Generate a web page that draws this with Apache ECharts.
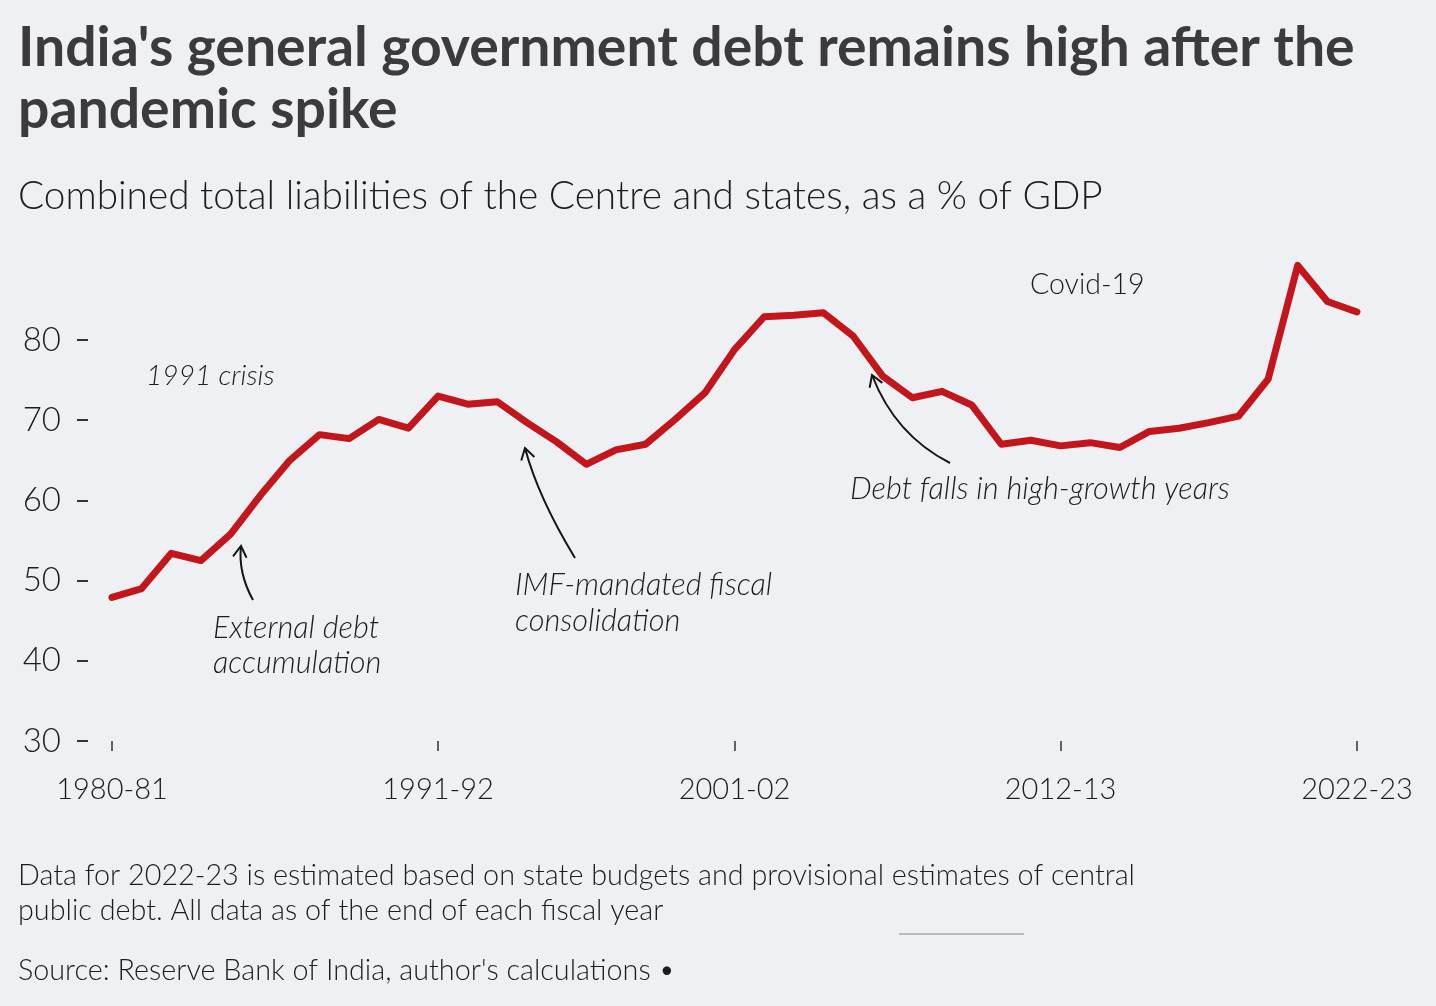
<!DOCTYPE html>
<html>
<head>
<meta charset="utf-8">
<script src="https://cdn.jsdelivr.net/npm/echarts@6/dist/echarts.min.js"></script>
<style>
  html, body { margin: 0; padding: 0; background: #eef0f3; }
  #chart { width: 1436px; height: 1006px; }
</style>
</head>
<body>
<div id="chart"></div>
<script>
// ---------------- data ----------------
const fiscalYears = [
  '1980-81','1981-82','1982-83','1983-84','1984-85','1985-86','1986-87','1987-88','1988-89','1989-90',
  '1990-91','1991-92','1992-93','1993-94','1994-95','1995-96','1996-97','1997-98','1998-99','1999-00',
  '2000-01','2001-02','2002-03','2003-04','2004-05','2005-06','2006-07','2007-08','2008-09','2009-10',
  '2010-11','2011-12','2012-13','2013-14','2014-15','2015-16','2016-17','2017-18','2018-19','2019-20',
  '2020-21','2021-22','2022-23'
];
const debtToGdp = [
  47.9, 49.0, 53.4, 52.5, 55.8, 60.6, 65.0, 68.2, 67.7, 70.1,
  69.0, 73.0, 72.0, 72.3, 69.7, 67.3, 64.5, 66.3, 67.0, 70.1,
  73.4, 78.8, 82.9, 83.1, 83.4, 80.5, 75.5, 72.8, 73.6, 71.9,
  67.0, 67.5, 66.8, 67.2, 66.6, 68.6, 69.0, 69.7, 70.5, 75.1,
  89.3, 84.8, 83.5
];
const xTickLabels = ['1980-81', '1991-92', '2001-02', '2012-13', '2022-23'];
const yMin = 30, yMax = 80, yStep = 10;

const titleLines = ["India's general government debt remains high after the", "pandemic spike"];
const subtitleText = 'Combined total liabilities of the Centre and states, as a % of GDP';
const footnoteLines = [
  'Data for 2022-23 is estimated based on state budgets and provisional estimates of central',
  'public debt. All data as of the end of each fiscal year'
];
const sourceText = "Source: Reserve Bank of India, author's calculations \u2022";

// ---------------- helpers ----------------
const FAMILY = 'Lato, "Open Sans", "Noto Sans", sans-serif';
const mctx = document.createElement('canvas').getContext('2d');
function fitSize(text, weight, style, target) {
  mctx.font = style + ' ' + weight + ' 100px ' + FAMILY;
  return 100 * target / mctx.measureText(text).width;
}
function txt(text, x, y, size, opts) {
  opts = opts || {};
  const weight = opts.weight || 300, style = opts.style || 'normal';
  return {
    type: 'text', x: x, y: y, silent: true,
    style: {
      text: text, fill: opts.fill || '#1d1d1f',
      font: style + ' ' + weight + ' ' + size.toFixed(2) + 'px ' + FAMILY,
      align: 'left', verticalAlign: 'middle',
      textAlign: 'left', textVerticalAlign: 'middle'
    }
  };
}
function arrow(tail, ctrl, tip) {
  const dx = tip[0] - ctrl[0], dy = tip[1] - ctrl[1];
  const L = Math.hypot(dx, dy), ux = dx / L, uy = dy / L;
  const len = 13, ang = 0.55;
  const w1 = [tip[0] - len * (ux * Math.cos(ang) - uy * Math.sin(ang)), tip[1] - len * (uy * Math.cos(ang) + ux * Math.sin(ang))];
  const w2 = [tip[0] - len * (ux * Math.cos(-ang) - uy * Math.sin(-ang)), tip[1] - len * (uy * Math.cos(-ang) + ux * Math.sin(-ang))];
  return [
    { type: 'bezierCurve', silent: true,
      shape: { x1: tail[0], y1: tail[1], x2: tip[0], y2: tip[1], cpx1: ctrl[0], cpy1: ctrl[1] },
      style: { stroke: '#151515', lineWidth: 2, fill: null } },
    { type: 'polyline', silent: true,
      shape: { points: [w1, tip, w2] },
      style: { stroke: '#151515', lineWidth: 2, fill: null, lineJoin: 'miter' } }
  ];
}

// ---------------- text sizes ----------------
const titleSize = fitSize(titleLines[0], 700, 'normal', 1337);
const subSize = fitSize(subtitleText, 300, 'normal', 1085);
const footSize = fitSize(footnoteLines[0], 300, 'normal', 1117);
const annSize = fitSize('Debt falls in high-growth years', 300, 'italic', 380);
const crisisSize = (annSize + fitSize('1991 crisis', 300, 'italic', 117)) / 2;
const covidSize = (annSize + fitSize('Covid-19', 300, 'normal', 106)) / 2;

const graphics = [
  txt(titleLines[0], 18, 48, titleSize, { weight: 700, fill: '#3b3b3d' }),
  txt(titleLines[1], 18, 110, titleSize, { weight: 700, fill: '#3b3b3d' }),
  txt(subtitleText, 18, 196, subSize),
  txt('1991 crisis', 146, 376, crisisSize, { style: 'italic' }),
  txt('External debt', 213, 628, annSize, { style: 'italic' }),
  txt('accumulation', 213, 663, annSize, { style: 'italic' }),
  txt('IMF-mandated fiscal', 515, 585, annSize, { style: 'italic' }),
  txt('consolidation', 515, 621, annSize, { style: 'italic' }),
  txt('Debt falls in high-growth years', 850, 489, annSize, { style: 'italic' }),
  txt('Covid-19', 1030, 285, covidSize),
  txt(footnoteLines[0], 18, 876, footSize),
  txt(footnoteLines[1], 18, 911, footSize),
  txt(sourceText, 18, 971, footSize),
  { type: 'line', silent: true, shape: { x1: 899, y1: 934, x2: 1024, y2: 934 },
    style: { stroke: '#b9bbbf', lineWidth: 2 } }
].concat(
  arrow([253, 600], [238, 573], [241, 546]),
  arrow([575, 558], [538, 497], [525, 448]),
  arrow([950, 463], [895, 435], [872, 375])
);

const labelIdx = xTickLabels.map(l => fiscalYears.indexOf(l));

const chart = echarts.init(document.getElementById('chart'), null, { renderer: 'canvas' });
chart.setOption({
  backgroundColor: '#eef0f3',
  animation: false,
  grid: { left: 112, right: 79, top: 340, bottom: 265, containLabel: false },
  xAxis: {
    type: 'category',
    data: fiscalYears,
    boundaryGap: false,
    axisLine: { show: false },
    axisTick: {
      show: true, length: 10, inside: false,
      interval: (i) => labelIdx.indexOf(i) >= 0,
      lineStyle: { color: '#333', width: 1.5 }
    },
    axisLabel: {
      interval: (i) => labelIdx.indexOf(i) >= 0,
      margin: 34,
      color: '#1d1d1f',
      fontFamily: FAMILY, fontWeight: 300, fontSize: 29
    },
    splitLine: { show: false }
  },
  yAxis: {
    type: 'value',
    min: yMin, max: yMax, interval: yStep,
    position: 'left', offset: 24,
    axisLine: { show: false },
    axisTick: { show: true, length: 11, lineStyle: { color: '#333', width: 2 } },
    axisLabel: {
      margin: 27, color: '#1d1d1f',
      fontFamily: FAMILY, fontWeight: 300, fontSize: 33
    },
    splitLine: { show: false }
  },
  series: [{
    type: 'line',
    data: debtToGdp,
    clip: false,
    symbol: 'none',
    smooth: false,
    lineStyle: { color: '#c3161c', width: 7, cap: 'round', join: 'round' }
  }],
  graphic: graphics
});
</script>
</body>
</html>
